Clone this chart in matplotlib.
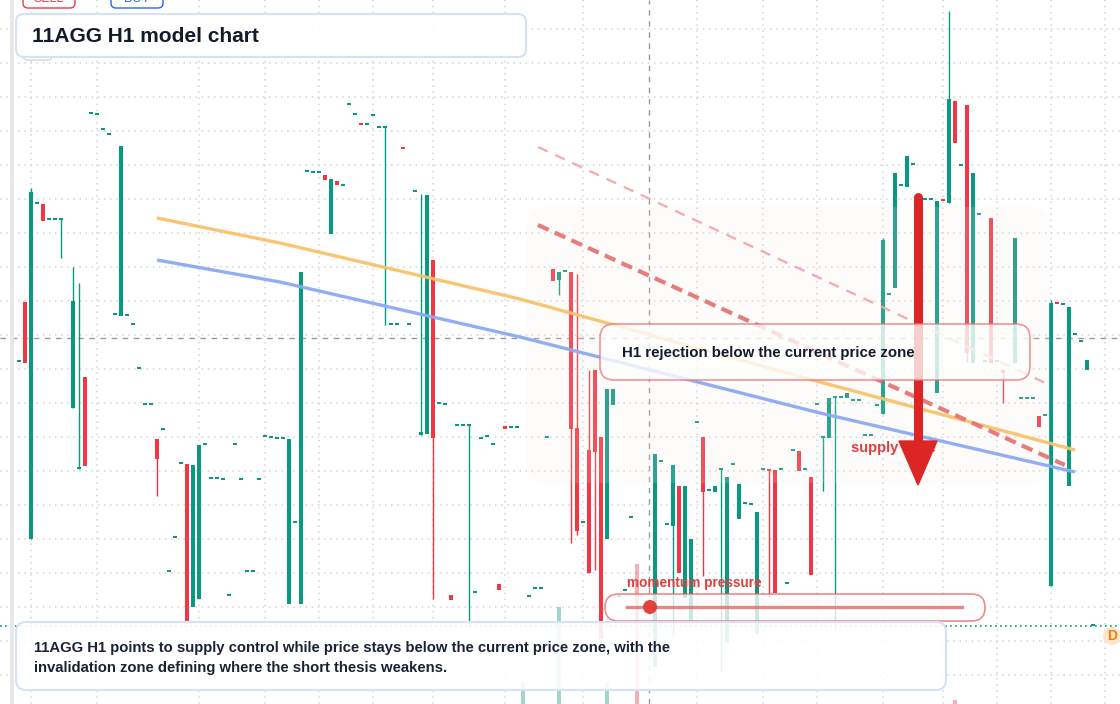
import matplotlib
matplotlib.use("Agg")
import matplotlib.pyplot as plt
from matplotlib.patches import FancyBboxPatch, Rectangle, Polygon, Circle

plt.rcParams['font.family'] = ['Liberation Sans', 'DejaVu Sans']

UP = '#089981'
DOWN = '#f23645'

# H1 bars: bar index, open, close (price in chart points)
bar_idx = [-1, 0, 1, 2, 3, 4, 5, 6, 8, 9, 10, 11, 12, 13, 14, 15, 16, 17, 18, 19,
           20, 21, 22, 23, 24, 25, 26, 27, 28, 29, 30, 31, 32, 33, 34, 35, 36, 37, 38, 39,
           40, 41, 42, 43, 44, 45, 46, 47, 48, 49, 50, 51, 52, 53, 54, 55, 56, 57, 58, 59,
           60, 61, 62, 63, 64, 65, 66, 67, 68, 69, 70, 71, 72, 73, 74, 75, 76, 77, 78, 79,
           80, 81, 82, 84, 85, 86, 87, 88, 89, 90, 91, 92, 93, 94, 95, 96, 97, 98, 99, 100,
           101, 105, 106, 107, 108, 109, 110, 111, 112, 113, 114, 115, 116, 117, 118, 119, 120, 121, 122, 123,
           124, 125, 126, 127, 128, 129, 130, 131, 132, 133, 134, 135, 136, 137, 138, 139, 140, 141, 142, 143,
           144, 145, 146, 147, 148, 150, 151, 152, 153, 154, 155, 156, 157, 158, 159, 160, 161, 162, 163, 165,
           166, 167, 168, 169, 170, 171, 172, 173, 174, 175, 176, 177, 178]
bar_open = [342, 402, 165, 500, 500, 484, 484, 484, 296, 235, 327, 590, 589, 574, 569, 389, 388, 388, 379, 335,
            299, 299, 265, 274, 132, 166, 240, 240, 97, 105, 259, 225, 225, 224, 108, 259, 224, 132, 132, 224,
            267, 266, 265, 265, 100, 181, 100, 532, 531, 531, 529, 470, 523, 518, 599, 589, 581, 579, 588, 576,
            576, 379, 379, 557, 379, 512, 269, 270, 444, 300, 299, 109, 278, 278, 278, 111, 265, 267, 259, 120,
            278, 276, 276, 107, 115, 115, 266, 435, 424, 432, 432, 276, 181, 254, 334, 267, 165, 299, 107, 113,
            186, 37, 242, 179, 178, 218, 106, 82, 281, 267, 213, 212, 234, 61, 239, 185, 200, 199, 70, 234,
            235, 234, 234, 120, 253, 253, 234, 227, 299, 266, 266, 306, 306, 306, 303, 303, 268, 268, 298, 290,
            409, 416, 518, 517, 539, 504, 504, 311, 504, 501, 603, 538, 599, 341, 489, 342, 486, 343, 334, 341,
            305, 305, 305, 288, 288, 118, 401, 399, 218, 369, 362, 334, 78]
bar_close = [343, 341, 512, 501, 483, 485, 485, 485, 403, 236, 238, 591, 590, 575, 570, 390, 558, 389, 380, 336,
             300, 300, 245, 275, 133, 167, 241, 83, 239, 259, 260, 226, 226, 225, 109, 260, 225, 133, 133, 225,
             268, 267, 266, 266, 265, 182, 432, 533, 532, 532, 524, 525, 519, 519, 600, 590, 579, 580, 589, 577,
             577, 380, 380, 555, 380, 513, 272, 509, 266, 301, 300, 104, 279, 279, 279, 112, 266, 268, 260, 114,
             275, 277, 277, 108, 116, 116, 267, 423, 432, 433, 275, 173, 182, 131, 252, 65, 315, 315, 108, 114,
             187, 250, 243, 180, 239, 131, 218, 165, 282, 212, 214, 218, 235, 227, 240, 220, 201, 200, 192, 235,
             233, 111, 235, 121, 254, 233, 235, 129, 300, 267, 306, 307, 307, 311, 304, 304, 269, 269, 299, 464,
             410, 531, 519, 548, 540, 505, 505, 503, 503, 605, 561, 539, 351, 531, 490, 343, 341, 342, 331, 466,
             306, 306, 306, 277, 289, 401, 400, 400, 397, 370, 363, 344, 79]

# wicks that reach beyond the body
wick_idx = [1, 6, 8, 9, 22, 60, 66, 68, 74, 89, 91, 92, 94, 95, 108, 113, 116, 124, 133, 135,
            143, 154, 157, 163, 171]
wick_high = [516, 485, 437, 421, 265, 577, 510, 444, 279, 432, 432, 430, 334, 334, 239, 267, 235, 235, 267, 307,
             466, 693, 599, 334, 404]
wick_low = [165, 446, 296, 235, 208, 379, 269, 105, 79, 409, 161, 169, 131, 134, 69, 128, 32, 107, 213, 76,
            290, 501, 342, 301, 118]

# volume histogram
vol_idx = [83, 89, 97, 102, 155]
vol_value = [22, 97, 22, 140, 4]
vol_up = [True, True, True, False, False]

# guide lines
ma_fast_idx = [22, 42.5, 82.5, 132.5, 175]
ma_fast = [486, 461, 405, 322, 254]
ma_slow_idx = [22, 42.5, 82.5, 132.5, 175]
ma_slow = [444, 422, 367, 291, 232]
channel_low_idx = [85.5, 173.3]
channel_low = [479, 239]
channel_high_idx = [85.5, 170.8]
channel_high = [557, 319]

last_price = 78
cross_idx = 104
cross_price = 366

grid_idx = [1, 12, 29, 40, 49, 58, 68, 80, 93, 112, 123, 132, 143, 153, 162, 171, 180]
grid_price = [29, 63, 97, 131, 165, 199, 233, 267, 301, 335, 369, 403, 437, 471, 505, 539, 573, 607, 641, 675]

title = "11AGG H1 model chart"
callout = "H1 rejection below the current price zone"
zone_label = "supply zone"
momentum_label = "momentum pressure"
summary = ("11AGG H1 points to supply control while price stays below the current price zone, with the\n"
           "invalidation zone defining where the short thesis weakens.")

fig = plt.figure(figsize=(11.2, 7.04), dpi=100)
ax = fig.add_axes([0, 0, 1, 1])
ax.set_xlim(-25 / 6, (1120 - 25) / 6)
ax.set_ylim(0, 704)
ax.set_xticks(grid_idx)
ax.set_yticks(grid_price)
ax.tick_params(length=0, labelleft=False, labelbottom=False)
for s in ax.spines.values():
    s.set_visible(False)
ax.grid(color='#d4d4d4', linestyle=(0, (1, 3)), linewidth=1.1, zorder=0)
ax.set_axisbelow(True)

# overlay axes in screen pixels for annotations
ov = fig.add_axes([0, 0, 1, 1])
ov.set_xlim(0, 1120)
ov.set_ylim(704, 0)
ov.axis('off')
ov.patch.set_alpha(0)

# crosshair and last price line
ax.axvline(cross_idx, color='#9a9a9a', linestyle=(0, (4, 4)), linewidth=1, zorder=1)
ax.axhline(cross_price, color='#9a9a9a', linestyle=(0, (4, 4)), linewidth=1, zorder=1)
ax.axhline(last_price, color=UP, linestyle=(0, (1, 2)), linewidth=1.2, zorder=1)

# volume
ax.bar(vol_idx, vol_value, bottom=0, width=0.82,
       color=[UP if u else DOWN for u in vol_up], alpha=0.4, linewidth=0, zorder=1.5)

# candles
colors = [UP if c >= o else DOWN for o, c in zip(bar_open, bar_close)]
bottoms = [min(o, c) for o, c in zip(bar_open, bar_close)]
heights = [max(abs(c - o), 1.6) for o, c in zip(bar_open, bar_close)]
col_of = dict(zip(bar_idx, colors))
ax.vlines(wick_idx, wick_low, wick_high, colors=[col_of[i] for i in wick_idx], linewidth=1, zorder=2)
ax.bar(bar_idx, heights, bottom=bottoms, width=0.82, color=colors, linewidth=0, zorder=2)

# supply zone shading
ax.add_patch(FancyBboxPatch((527, 207), 523, 276, boxstyle="round,pad=0,rounding_size=18",
                            transform=ov.transData, facecolor='#f7ece0', edgecolor='none',
                            alpha=0.15, zorder=2.5))

# trend lines
ax.plot(ma_fast_idx, ma_fast, color='#f8c26a', linewidth=2.4, alpha=0.95, zorder=3,
        solid_capstyle='butt')
ax.plot(ma_slow_idx, ma_slow, color='#8caaf3', linewidth=2.4, alpha=0.95, zorder=3,
        solid_capstyle='butt')
ax.plot(channel_low_idx, channel_low, color='#e66e70', linewidth=3, alpha=0.9,
        linestyle=(0, (2.8, 1.6)), zorder=3)
ax.plot(channel_high_idx, channel_high, color='#f2a6a6', linewidth=1.7, alpha=0.9,
        linestyle=(0, (4.5, 3.5)), zorder=3)

# left border strip
ov.add_patch(Rectangle((10, 0), 4, 704, facecolor='#e7e7e7', edgecolor='none', zorder=1))

# sell / buy buttons
ov.add_patch(FancyBboxPatch((23, -12), 52, 20, boxstyle="round,pad=0,rounding_size=5",
                            facecolor='white', edgecolor=DOWN, linewidth=1, zorder=2))
ov.text(49, -1, "SELL", color=DOWN, fontsize=9, ha='center', va='center', zorder=3)
ov.add_patch(FancyBboxPatch((111, -12), 52, 20, boxstyle="round,pad=0,rounding_size=5",
                            facecolor='white', edgecolor='#2962ff', linewidth=1, zorder=2))
ov.text(137, -1, "BUY", color='#2962ff', fontsize=9, ha='center', va='center', zorder=3)

# faint volume legend peeking out under the title card
ov.text(24, 25, "Vol  1", color='#c4c4c4', fontsize=10, va='center', zorder=2)
ov.add_patch(FancyBboxPatch((23, 40), 29, 20, boxstyle="round,pad=0,rounding_size=4",
                            facecolor='white', edgecolor='#d8d8d8', linewidth=1, zorder=2))

# title card
ov.add_patch(FancyBboxPatch((16, 14), 510, 43, boxstyle="round,pad=0,rounding_size=8",
                            facecolor=(1, 1, 1, 0.94), edgecolor='#d6e2f6', linewidth=1.5, zorder=4))
ov.text(32, 36, title, fontsize=15, fontweight='bold', color='#131a2b', va='center', zorder=5)

# supply zone arrow and label
ov.text(851, 448, zone_label, fontsize=10.5, fontweight='bold', color='#e23d3d', va='center', zorder=3)
ov.plot([917.5, 917.5], [197, 443], color='#dc2626', linewidth=6.5, solid_capstyle='round', zorder=3.2)
ov.add_patch(Polygon([(899, 441), (937, 441), (918, 485)], closed=True, facecolor='#dc2626',
                     edgecolor='#dc2626', linewidth=1, zorder=3.2))

# callout box
ov.add_patch(FancyBboxPatch((600, 324), 430, 56, boxstyle="round,pad=0,rounding_size=14",
                            facecolor=(1, 1, 1, 0.78), edgecolor=(0.92, 0.45, 0.45, 0.75),
                            linewidth=1.2, zorder=4))
ov.text(622, 353, callout, fontsize=10.8, fontweight='bold', color='#131a2b', va='center', zorder=5)

# momentum pill
ov.text(627, 583, momentum_label, fontsize=9.8, fontweight='bold', color='#e2403f', va='center', zorder=5)
ov.add_patch(FancyBboxPatch((605, 594), 380, 27, boxstyle="round,pad=0,rounding_size=13.5",
                            facecolor=(1, 1, 1, 0.78), edgecolor=(0.9, 0.4, 0.4, 0.75),
                            linewidth=1.2, zorder=4))
ov.plot([627, 962], [607, 607], color='#e06a6a', alpha=0.8, linewidth=2.4, zorder=5)
ov.add_patch(Circle((650, 607), 7, facecolor='#e53935', edgecolor='none', alpha=0.95, zorder=6))

# summary card
ov.add_patch(FancyBboxPatch((16, 622), 930, 68, boxstyle="round,pad=0,rounding_size=10",
                            facecolor=(1, 1, 1, 0.9), edgecolor='#d6e2f6', linewidth=1.5, zorder=4))
ov.text(34, 658, summary, fontsize=10.7, fontweight='bold', color='#1b2233', va='center',
        linespacing=1.6, zorder=5)

# dividend marker
ov.add_patch(Circle((1112, 636), 9, facecolor='#fde6cc', edgecolor='none', zorder=4))
ov.text(1112, 636, "D", color='#f57c00', fontsize=10, fontweight='bold', ha='center', va='center', zorder=5)

fig.savefig("out.png", dpi=100)
